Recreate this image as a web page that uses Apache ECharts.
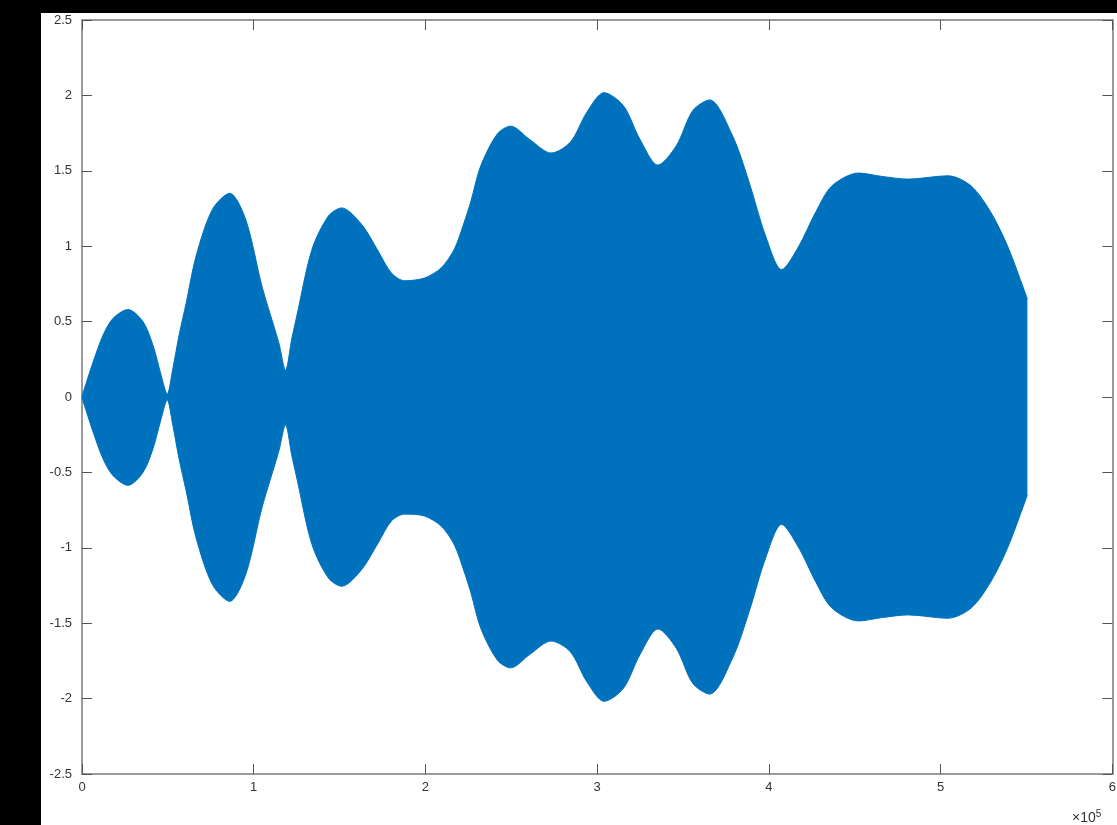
<!DOCTYPE html>
<html>
<head>
<meta charset="utf-8">
<script src="https://cdn.jsdelivr.net/npm/echarts@6/dist/echarts.min.js"></script>
<style>
html,body{margin:0;padding:0;background:#000;overflow:hidden;width:1117px;height:825px;}
#c{position:absolute;left:41px;top:13px;width:1078px;height:812px;background:#fff;}
</style>
</head>
<body>
<div id="c"></div>
<script>
// x positions in units of 1e5
var xVals = [0, 0.008, 0.065, 0.123, 0.181, 0.268, 0.355, 0.413, 0.461, 0.496, 0.529, 0.567, 0.606, 0.664, 0.76, 0.86, 0.953, 1.049, 1.146, 1.185, 1.222, 1.252, 1.339, 1.435, 1.512, 1.628, 1.725, 1.802, 1.878, 1.994, 2.091, 2.168, 2.226, 2.265, 2.322, 2.419, 2.496, 2.61, 2.731, 2.843, 2.94, 3.04, 3.152, 3.248, 3.354, 3.461, 3.557, 3.655, 3.789, 3.885, 3.981, 4.074, 4.174, 4.271, 4.367, 4.522, 4.657, 4.811, 5.043, 5.177, 5.293, 5.39, 5.486, 5.505];
var upperEnv = [0, 0.033, 0.233, 0.411, 0.522, 0.58, 0.5, 0.344, 0.144, 0.02, 0.189, 0.42, 0.62, 0.933, 1.245, 1.351, 1.178, 0.73, 0.36, 0.178, 0.389, 0.544, 0.978, 1.2, 1.254, 1.145, 0.967, 0.822, 0.771, 0.789, 0.856, 0.98, 1.16, 1.3, 1.533, 1.745, 1.796, 1.705, 1.618, 1.689, 1.889, 2.018, 1.933, 1.711, 1.538, 1.667, 1.9, 1.97, 1.73, 1.423, 1.067, 0.845, 1.0, 1.223, 1.4, 1.485, 1.463, 1.445, 1.467, 1.4, 1.223, 1.0, 0.71, 0.65];
var lowerEnv = [0, -0.033, -0.233, -0.411, -0.522, -0.586, -0.5, -0.344, -0.144, -0.02, -0.189, -0.42, -0.62, -0.933, -1.245, -1.355, -1.178, -0.73, -0.36, -0.185, -0.389, -0.544, -0.978, -1.2, -1.255, -1.145, -0.967, -0.822, -0.777, -0.789, -0.856, -0.98, -1.16, -1.3, -1.533, -1.745, -1.796, -1.705, -1.618, -1.689, -1.889, -2.018, -1.933, -1.711, -1.538, -1.667, -1.9, -1.97, -1.73, -1.423, -1.067, -0.845, -1.0, -1.223, -1.4, -1.485, -1.463, -1.445, -1.467, -1.4, -1.223, -1.0, -0.71, -0.65];
var xTicks = [0, 1, 2, 3, 4, 5, 6];
var yTicks = [-2.5, -2, -1.5, -1, -0.5, 0, 0.5, 1, 1.5, 2, 2.5];

var blue = '#0072BD';
var upperData = xVals.map(function(x, i){ return [x, upperEnv[i]]; });
var lowerData = xVals.map(function(x, i){ return [x, lowerEnv[i]]; });

var axisLine = {show: true, onZero: false, lineStyle: {color: '#9a9a9a', width: 2}};
var axisTick = {show: true, inside: true, length: 10, lineStyle: {color: '#555', width: 1}};
var lblFont = {fontFamily: 'Liberation Sans', fontSize: 13, color: '#333'};

var chart = echarts.init(document.getElementById('c'));
chart.setOption({
  animation: false,
  backgroundColor: '#fff',
  grid: {left: 41, right: 0, top: 7, bottom: 51, containLabel: false},
  xAxis: [
    {type: 'value', min: xTicks[0], max: xTicks[xTicks.length-1], interval: 1, position: 'bottom',
     axisLine: axisLine, axisTick: axisTick, splitLine: {show: false},
     axisLabel: Object.assign({margin: 7}, lblFont)},
    {type: 'value', min: xTicks[0], max: xTicks[xTicks.length-1], interval: 1, position: 'top',
     axisLine: axisLine, axisTick: axisTick, splitLine: {show: false}, axisLabel: {show: false}}
  ],
  yAxis: [
    {type: 'value', min: yTicks[0], max: yTicks[yTicks.length-1], interval: 0.5, position: 'left',
     axisLine: axisLine, axisTick: axisTick, splitLine: {show: false},
     axisLabel: Object.assign({margin: 10}, lblFont)},
    {type: 'value', min: yTicks[0], max: yTicks[yTicks.length-1], interval: 0.5, position: 'right',
     axisLine: axisLine, axisTick: axisTick, splitLine: {show: false}, axisLabel: {show: false}}
  ],
  series: [
    {type: 'line', data: upperData, smooth: 0.3, showSymbol: false,
     lineStyle: {color: blue, width: 1}, itemStyle: {color: blue},
     areaStyle: {color: blue, opacity: 1, origin: 'auto'}, z: 2},
    {type: 'line', data: lowerData, smooth: 0.3, showSymbol: false,
     lineStyle: {color: blue, width: 1}, itemStyle: {color: blue},
     areaStyle: {color: blue, opacity: 1, origin: 'auto'}, z: 2}
  ],
  graphic: [
    {type: 'text', left: 1031, top: 796,
     style: {text: '×10{s|5}', fontFamily: 'Liberation Sans', fontSize: 14, fill: '#333',
       rich: {s: {fontSize: 10, verticalAlign: 'top', padding: [0,0,9,0], fill: '#333'}}}}
  ]
});
</script>
</body>
</html>
